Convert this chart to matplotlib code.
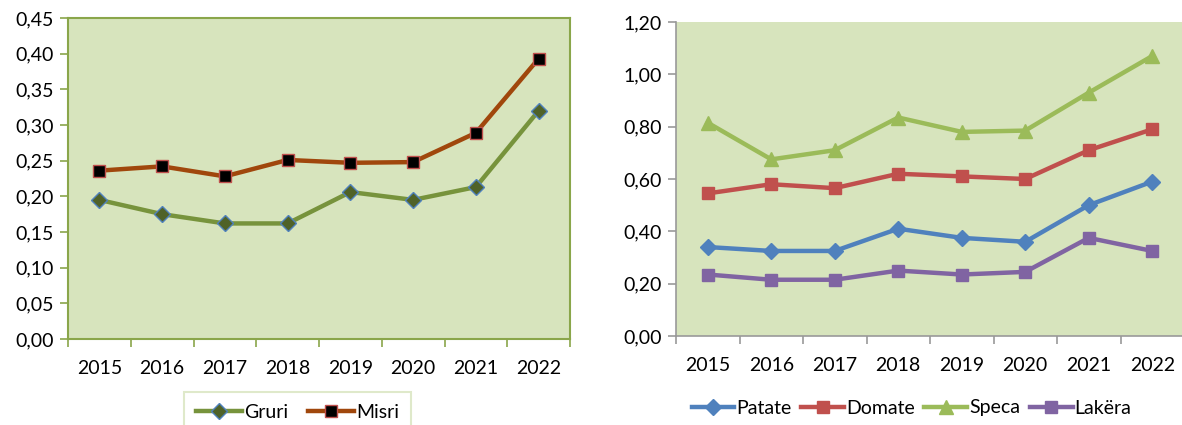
import numpy as np
import matplotlib.pyplot as plt

years = ["2015", "2016", "2017", "2018", "2019", "2020", "2021", "2022"]

# left chart
gruri = [0.195, 0.175, 0.162, 0.162, 0.206, 0.195, 0.213, 0.320]
misri = [0.236, 0.242, 0.228, 0.251, 0.247, 0.248, 0.289, 0.393]

# right chart
patate = [0.34, 0.325, 0.325, 0.41, 0.375, 0.36, 0.50, 0.59]
domate = [0.545, 0.58, 0.565, 0.62, 0.61, 0.60, 0.71, 0.79]
speca = [0.815, 0.675, 0.71, 0.835, 0.78, 0.785, 0.93, 1.07]
lakera = [0.235, 0.215, 0.215, 0.25, 0.235, 0.245, 0.375, 0.325]

W, H = 1182, 425
BG = "#d7e4bd"
FS = 14
plt.rcParams['font.family'] = ['Lato', 'DejaVu Sans']

fig = plt.figure(figsize=(W / 100, H / 100), dpi=100)


def px_axes(x0, y0, x1, y1):
    # pixel box -> figure fraction
    return fig.add_axes([x0 / W, (H - y1) / H, (x1 - x0) / W, (y1 - y0) / H])


def comma(v, decimals=2):
    return f"{v:.{decimals}f}".replace(".", ",")


def setup_axes(ax, ymax, ystep, spine_color):
    x = np.arange(len(years))
    ax.set_facecolor(BG)
    ax.set_xlim(-0.5, len(years) - 0.5)
    ax.set_ylim(0, ymax)
    yt = np.arange(0, ymax + ystep / 2, ystep)
    ax.set_yticks(yt)
    ax.set_yticklabels([comma(v) for v in yt])
    # ticks on category boundaries, labels at centres
    ax.set_xticks(np.arange(-0.5, len(years)), minor=False)
    ax.set_xticklabels([])
    ax.set_xticks(x, minor=True)
    ax.set_xticklabels(years, minor=True)
    ax.tick_params(axis='x', which='major', length=6, width=1.2, color=spine_color, direction='out')
    ax.tick_params(axis='x', which='minor', length=0, pad=15, labelsize=FS)
    ax.tick_params(axis='y', length=6, width=1.2, color=spine_color, labelsize=FS, pad=4)
    return x


# ---- left chart
ax1 = px_axes(68, 18, 570, 339)
x = setup_axes(ax1, 0.45, 0.05, "#8aa64a")
for s in ax1.spines.values():
    s.set_color("#8aa64a")
    s.set_linewidth(1.5)
ax1.plot(x, gruri, color="#77933c", lw=3.2, marker="D", ms=8,
         mfc="#4f6228", mec="#4f81bd", mew=1, label="Gruri")
ax1.plot(x, misri, color="#a0470c", lw=3.2, marker="s", ms=9,
         mfc="black", mec="#c0504d", mew=1, label="Misri")
leg1 = ax1.legend(loc="center", bbox_to_anchor=((297.5 - 68) / 502, (339 - 412) / 321), ncol=2,
                  frameon=True, fancybox=False, fontsize=FS, handlelength=2.4,
                  handletextpad=0.1, columnspacing=1.0, borderpad=0.6)
leg1.get_frame().set_edgecolor("#d7e4bd")
leg1.get_frame().set_linewidth(1.5)

# ---- right chart
ax2 = px_axes(676, 22, 1184, 336)
x = setup_axes(ax2, 1.20, 0.20, "#999999")
ax2.spines["top"].set_visible(False)
ax2.spines["right"].set_visible(False)
ax2.spines["left"].set_color("#999999")
ax2.spines["bottom"].set_color("#999999")
ax2.spines["left"].set_linewidth(1.2)
ax2.spines["bottom"].set_linewidth(1.2)
ax2.plot(x, patate, color="#4f81bd", lw=3.2, marker="D", ms=8, label="Patate")
ax2.plot(x, domate, color="#c0504d", lw=3.2, marker="s", ms=9, label="Domate")
ax2.plot(x, speca, color="#9bbb59", lw=3.2, marker="^", ms=10, label="Speca")
ax2.plot(x, lakera, color="#8064a2", lw=3.2, marker="s", ms=9, label="Lakëra")
ax2.legend(loc="center", bbox_to_anchor=(((683 + 1140) / 2 - 676) / 508, (336 - 408) / 314), ncol=4,
           frameon=False, fontsize=FS, handlelength=2.2, handletextpad=0.1,
           columnspacing=0.5)

fig.savefig("out.png", dpi=100)
